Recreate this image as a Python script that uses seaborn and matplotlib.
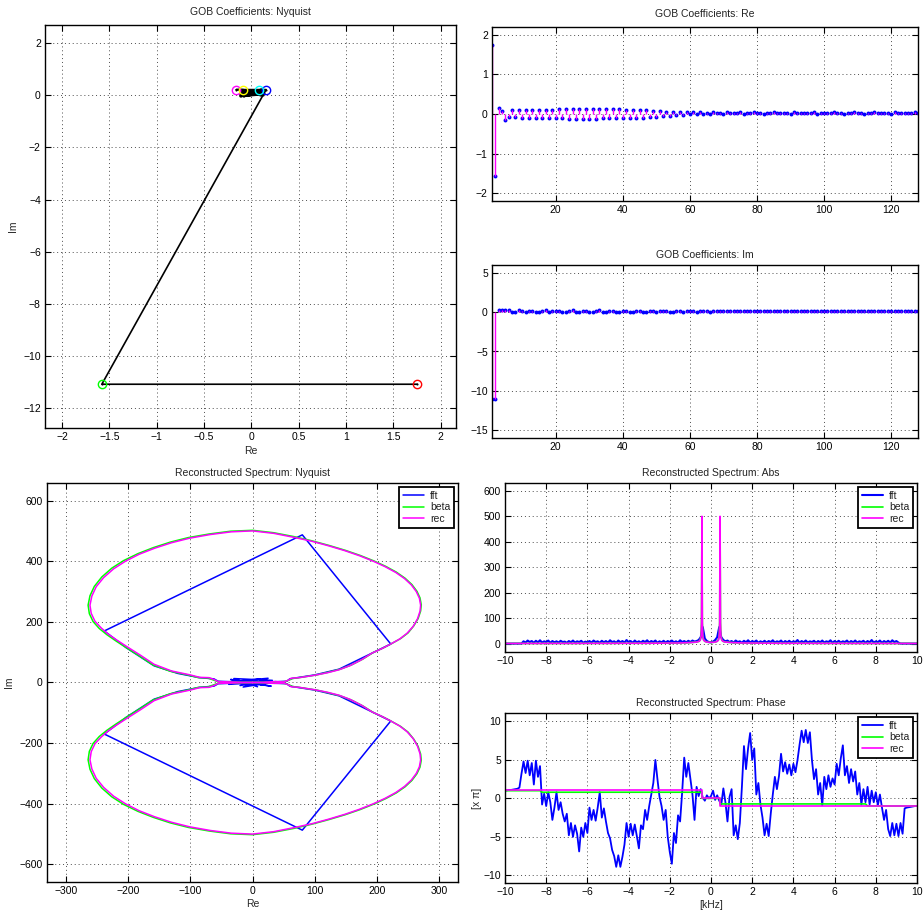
import numpy as np
import matplotlib
matplotlib.use("Agg")
import matplotlib.pyplot as plt
from matplotlib.ticker import FuncFormatter
import seaborn as sns

# ---------------- data ----------------
# GOB coefficients (index 1..128)
coef_re = [
    1.75, -1.58, 0.155, 0.077, -0.159, -0.088,
    0.10, -0.08, 0.10, -0.09, 0.09, -0.10, 0.10, -0.09, 0.10, -0.10,
    0.11, -0.10, 0.11, -0.11, 0.12, -0.11, 0.12, -0.12, 0.13, -0.12,
    0.13, -0.12, 0.13, -0.12, 0.12, -0.12, 0.12, -0.11, 0.12, -0.11,
    0.12, -0.11, 0.12, -0.11, 0.11, -0.10, 0.11, -0.10, 0.10, -0.09,
    0.09, -0.08, 0.08, -0.07, 0.07, -0.06, 0.06, -0.05, 0.05, -0.03,
    0.05, -0.02, 0.04, -0.01, 0.04, 0.00, 0.04, 0.01, 0.03, 0.01,
    0.04, 0.02, 0.03, 0.01, 0.04, 0.02, 0.03, 0.02, 0.04, 0.01,
    0.03, 0.02, 0.04, 0.02, 0.03, 0.01, 0.03, 0.02, 0.04, 0.02,
    0.03, 0.02, 0.03, 0.01, 0.04, 0.02, 0.03, 0.02, 0.03, 0.02,
    0.04, 0.01, 0.03, 0.02, 0.03, 0.02, 0.04, 0.02, 0.03, 0.01,
    0.03, 0.02, 0.04, 0.02, 0.03, 0.01, 0.03, 0.02, 0.04, 0.02,
    0.03, 0.02, 0.03, 0.01, 0.04, 0.02, 0.03, 0.02, 0.03, 0.02,
    0.04, 0.02,
]
coef_im = [
    -11.09, -11.09, 0.22, 0.22, 0.22, 0.22,
    0.02, -0.03, 0.22, 0.10, 0.00, 0.18, 0.21, -0.02, 0.05, 0.16,
    0.22, 0.02, 0.10, 0.19, 0.20, -0.03, 0.04, 0.17, 0.22, 0.03,
    0.08, 0.18, 0.21, -0.02, 0.03, 0.16, 0.22, 0.04, 0.08, 0.18,
    0.20, 0.00, 0.05, 0.16, 0.21, 0.03, 0.08, 0.17, 0.20, 0.00,
    0.06, 0.15, 0.19, 0.04, 0.09, 0.16, 0.18, 0.02, 0.07, 0.14,
    0.17, 0.05, 0.10, 0.14, 0.16, 0.06, 0.09, 0.13, 0.15, 0.07,
    0.11, 0.10, 0.11, 0.10, 0.11, 0.10, 0.11, 0.10, 0.11, 0.10,
    0.11, 0.10, 0.11, 0.10, 0.11, 0.10, 0.11, 0.10, 0.11, 0.10,
    0.11, 0.10, 0.11, 0.10, 0.11, 0.10, 0.11, 0.10, 0.11, 0.10,
    0.11, 0.10, 0.11, 0.10, 0.11, 0.10, 0.11, 0.10, 0.11, 0.10,
    0.11, 0.10, 0.11, 0.10, 0.11, 0.10, 0.11, 0.10, 0.11, 0.10,
    0.11, 0.10, 0.11, 0.10, 0.11, 0.10, 0.11, 0.10, 0.11, 0.10,
    0.10, 0.10,
]
coef_idx = np.arange(1, len(coef_re) + 1)
marker_colors = ["#ff0000", "#00ff00", "#0000ff", "#00ffff", "#ff00ff", "#ffff00"]

# Reconstructed spectrum, upper Nyquist loop as (Re, Im); lower loop is its conjugate
rec_loop = [
    (0, 0), (18, 1), (35, 3), (50, 2), (58, 8), (62, 14), (75, 16), (100, 24), (120, 32),
    (139, 42), (157, 56), (175, 75), (192, 97), (208, 112), (222, 127), (236, 143),
    (248, 162), (258, 185), (265, 210), (269, 235), (270, 255), (268, 278), (263, 300),
    (255, 322), (244, 343), (230, 363), (213, 382), (194, 400), (172, 418), (148, 435),
    (122, 451), (95, 466), (66, 479), (34, 492), (0, 500), (-34, 497), (-68, 488),
    (-101, 476), (-130, 461), (-157, 443), (-182, 423), (-204, 400), (-223, 375),
    (-239, 346), (-251, 316), (-258, 285), (-261, 255), (-259, 228), (-253, 202),
    (-243, 180), (-232, 160), (-218, 140), (-203, 120), (-180, 90), (-158, 60),
    (-130, 38), (-100, 25), (-85, 17), (-70, 16), (-62, 10), (-55, 3), (-40, 2),
    (-20, 1), (0, 0),
]
beta_loop = [
    (0, 0), (18, 1), (36, 2), (52, 3), (60, 9), (64, 13), (78, 17), (103, 25), (122, 34),
    (141, 44), (159, 58), (177, 77), (194, 99), (210, 114), (224, 129), (238, 145),
    (250, 164), (259, 187), (266, 211), (270, 236), (271, 256), (269, 279), (264, 301),
    (256, 323), (245, 344), (231, 364), (214, 383), (195, 401), (173, 419), (149, 436),
    (123, 452), (96, 467), (67, 481), (34, 494), (0, 502), (-35, 499), (-69, 490),
    (-103, 478), (-132, 463), (-159, 445), (-184, 425), (-207, 402), (-226, 377),
    (-242, 348), (-254, 317), (-261, 286), (-264, 255), (-262, 227), (-256, 201),
    (-246, 178), (-234, 158), (-220, 138), (-205, 118), (-182, 88), (-160, 58),
    (-132, 37), (-102, 24), (-87, 16), (-72, 15), (-64, 9), (-56, 3), (-41, 2),
    (-20, 1), (0, 0),
]
# FFT: noisy cluster around the origin, then the coarse upper loop
fft_core = [
    (0, 0), (-22, 6), (18, -8), (-35, 10), (30, -12), (-28, 4), (25, 14), (-15, -15),
    (38, 3), (-38, -6), (12, 12), (-20, -10), (32, 7), (-30, 13), (8, -14), (-10, 9),
    (20, -3), (0, 0),
]
fft_loop = [
    (0, 0), (-20, 2), (-40, 3), (-55, 4), (-62, 12), (-85, 16), (-120, 30), (-158, 55),
    (-203, 115), (-238, 170), (80, 487), (222, 127), (192, 97), (139, 44), (100, 25),
    (75, 17), (60, 12), (55, 4), (30, 2), (0, 0),
]

# Spectrum on a 0.1 kHz grid from -10 to 10 kHz
freq_khz = np.linspace(-10, 10, 201)
fft_abs = [
    0, 0, 0, 0, 0, 0, 0, 0, 0, 9,
    4, 12, 6, 10, 3, 11, 5, 13, 4, 9,
    6, 12, 3, 10, 5, 9, 4, 11, 6, 8,
    3, 10, 5, 12, 4, 9, 6, 11, 3, 8,
    5, 10, 4, 12, 6, 9, 3, 11, 5, 10,
    4, 13, 6, 9, 3, 12, 5, 10, 4, 14,
    6, 10, 3, 12, 5, 9, 4, 11, 6, 13,
    4, 10, 6, 12, 3, 9, 5, 11, 4, 10,
    6, 12, 5, 9, 4, 13, 6, 10, 5, 11,
    6, 12, 8, 10, 14, 25, 65, 20, 10, 6,
    5, 8, 14, 25, 65, 25, 14, 9, 12, 6,
    10, 4, 12, 6, 9, 3, 11, 5, 13, 4,
    10, 6, 12, 3, 9, 5, 11, 4, 10, 6,
    13, 4, 9, 6, 12, 3, 10, 5, 11, 4,
    9, 6, 14, 3, 10, 5, 12, 4, 9, 6,
    11, 3, 10, 5, 12, 4, 9, 6, 13, 3,
    10, 5, 11, 4, 9, 6, 12, 3, 10, 5,
    12, 4, 9, 6, 11, 3, 10, 5, 14, 4,
    9, 6, 12, 3, 10, 5, 11, 4, 13, 6,
    10, 4, 0, 0, 0, 0, 0, 0, 0, 0,
    0,
]
fft_phase = [
    1.0, 1.05, 1.1, 1.1, 1.15, 1.2, 1.25, 1.4, 3.2, 4.8,
    3.3, 4.9, 3.0, 4.6, 1.8, 4.9, 2.8, 4.2, -0.8, 0.6,
    -1.0, 0.8, -0.5, -2.8, -1.2, 0.8, -1.5, -0.5, -2.0, -3.0,
    -2.0, -4.8, -3.2, -5.0, -3.5, -4.6, -6.9, -3.8, -5.0, -3.2,
    -4.5, -1.2, -2.8, -1.5, -2.9, -1.2, 0.8, -2.5, -1.3, -3.0,
    -4.5, -5.2, -6.7, -7.5, -8.9, -7.4, -8.9, -7.6, -6.0, -3.2,
    -5.0, -3.3, -4.8, -3.4, -4.9, -6.5, -3.5, -4.0, -1.5, -2.8,
    -1.0, 0.5, 2.0, 5.0, 2.5, 0.2, -1.0, -2.8, -1.5, -5.0,
    -7.0, -8.5, -4.5, -5.8, -2.2, -3.0, 0.8, 5.3, 2.8, 4.6,
    2.5, 0.5, -2.8, 1.5, 0.3, 1.2, 0.1, -0.3, 0.4, 0.0,
    0.3, 1.0, -0.2, 0.4, -0.3, -0.8, 1.3, -0.5, -3.0, 0.2,
    1.2, -4.8, -3.5, -5.3, -3.2, 1.5, 6.8, 3.8, 6.5, 8.5,
    5.0, 6.5, 0.5, 2.0, -0.8, -2.5, -4.8, -3.3, -4.9, -2.0,
    0.5, 2.8, 1.2, 2.9, 5.8, 3.5, 4.7, 3.2, 4.4, 3.0,
    4.5, 3.4, 5.0, 7.0, 8.8, 7.3, 8.9, 7.2, 8.6, 5.0,
    2.5, 3.8, 0.5, 2.0, -0.9, 2.8, 1.2, 3.0, 1.5, 2.6,
    1.8, 4.5, 3.0, 5.2, 6.9, 3.0, 4.2, 2.0, 3.8, 2.2,
    3.5, 0.5, 2.0, -0.8, 1.2, -0.5, 1.5, -0.8, 1.0, -0.5,
    0.8, -0.9, 0.5, -1.2, -2.8, -1.5, -4.0, -4.9, -3.2, -4.8,
    -3.3, -4.9, -3.2, -4.6, -1.3, -1.2, -1.15, -1.1, -1.05, -1.0,
    -1.0,
]

# Model magnitude (beta) and reconstruction (rec)
model_abs_f = [-10, -6, -3, -1.5, -1.0, -0.7, -0.58, -0.52, -0.48, -0.46, -0.44, -0.42,
               -0.40, -0.36, -0.3, -0.2, -0.1, 0, 0.1, 0.2, 0.3, 0.36, 0.40, 0.42, 0.44,
               0.46, 0.48, 0.52, 0.58, 0.7, 1.0, 1.5, 3, 6, 10]
rec_abs = [0.5, 1, 1.5, 2.5, 4, 6, 9, 14, 30, 80, 500, 80,
           30, 14, 9, 6, 5, 5, 5, 6, 9, 14, 30, 80, 500,
           80, 30, 14, 9, 6, 4, 2.5, 1.5, 1, 0.5]
beta_abs = [0.5, 1, 1.5, 2.5, 4, 6, 9, 15, 32, 85, 480, 85,
            32, 15, 9, 6, 5, 4, 5, 6, 9, 15, 32, 85, 480,
            85, 32, 15, 9, 6, 4, 2.5, 1.5, 1, 0.5]

rec_phase_f = [-10, -0.44, -0.44, 0.44, 0.44, 10]
rec_phase = [1.05, 1.05, 0.05, 0.05, -1.0, -1.0]
beta_phase_f = [-10, -8.3, -8.2, -0.5, -0.44, -0.44, 0.44, 0.44, 0.5, 7.5, 7.6, 10]
beta_phase = [1.0, 1.0, 0.8, 0.8, 0.8, 0.0, 0.0, -0.72, -0.72, -0.72, -0.98, -1.0]

# ---------------- style ----------------
sns.set_theme(style="ticks")
plt.rcParams.update({
    "font.family": ["Liberation Sans", "DejaVu Sans"],
    "font.size": 7.5,
    "axes.titlesize": 7.5,
    "axes.labelsize": 7.5,
    "xtick.labelsize": 7.5,
    "ytick.labelsize": 7.5,
    "axes.linewidth": 1.0,
    "axes.edgecolor": "black",
    "axes.facecolor": "white",
    "xtick.color": "black",
    "ytick.color": "black",
    "text.color": "#222222",
    "xtick.direction": "in",
    "ytick.direction": "in",
    "xtick.top": True,
    "ytick.right": True,
    "xtick.major.size": 4,
    "ytick.major.size": 4,
    "xtick.major.width": 0.8,
    "ytick.major.width": 0.8,
    "xtick.major.pad": 3,
    "ytick.major.pad": 3,
})

BLUE, GREEN, MAGENTA = "#0000ff", "#00ff00", "#ff00ff"

fig = plt.figure(figsize=(9.24, 9.13), dpi=100)
W, H = 924, 913


def add_axes(left, top, right, bottom):
    return fig.add_axes([left / W, 1 - bottom / H, (right - left) / W, (bottom - top) / H])


def short_num(v, _pos):
    return f"{v:g}".replace("-", "\u2212")


def style(ax, xlim, ylim, xticks, yticks, title, pad=5):
    ax.set_xlim(*xlim)
    ax.set_ylim(*ylim)
    ax.set_xticks(xticks)
    ax.set_yticks(yticks)
    ax.xaxis.set_major_formatter(FuncFormatter(short_num))
    ax.yaxis.set_major_formatter(FuncFormatter(short_num))
    ax.grid(True, linestyle=(0, (1, 3)), color="0.3", linewidth=0.7)
    ax.set_axisbelow(True)
    ax.set_title(title, pad=pad, color="#222222")
    ax.set_xlabel("")
    ax.set_ylabel("")
    for s in ax.spines.values():
        s.set_visible(True)
        s.set_color("black")


def legend(ax):
    leg = ax.legend(loc="upper right", fancybox=False, framealpha=1, edgecolor="black",
                    handlelength=2.0, borderpad=0.35, labelspacing=0.15, handletextpad=0.6,
                    borderaxespad=0.4, fontsize=7.5)
    leg.get_frame().set_linewidth(1.3)


def loop_xy(upper):
    """Closed figure-eight: upper loop followed by its mirrored (conjugate) loop."""
    re = np.array([p[0] for p in upper], dtype=float)
    im = np.array([p[1] for p in upper], dtype=float)
    return np.concatenate([re, re[::-1]]), np.concatenate([im, -im[::-1]])


# --- GOB coefficients: Nyquist ---
ax1 = add_axes(45, 25, 456, 428)
sns.lineplot(x=coef_re, y=coef_im, sort=False, estimator=None, color="black",
             linewidth=1.2, marker=".", markersize=3, markeredgewidth=0, ax=ax1, legend=False)
for k, c in enumerate(marker_colors):
    ax1.plot(coef_re[k], coef_im[k], marker="o", mfc="none", mec=c, ms=6, mew=1.0)
style(ax1, (-2.18, 2.16), (-12.77, 2.7), np.arange(-2, 2.01, 0.5), np.arange(-12, 2.1, 2),
      "GOB Coefficients: Nyquist", pad=7)
ax1.set_xlabel("Re", labelpad=3)
ax1.set_ylabel("Im", labelpad=4)

# --- GOB coefficients: Re ---
ax2 = add_axes(492, 27, 918, 201)
ax2.vlines(coef_idx, 0, coef_re, color=MAGENTA, linewidth=1.0)
sns.scatterplot(x=coef_idx, y=coef_re, color=BLUE, s=8, linewidth=0, ax=ax2, legend=False)
style(ax2, (1, 128), (-2.2, 2.2), np.arange(20, 121, 20), np.arange(-2, 2.1, 1),
      "GOB Coefficients: Re", pad=7)

# --- GOB coefficients: Im ---
ax3 = add_axes(492, 265, 918, 438)
ax3.vlines(coef_idx, 0, coef_im, color=MAGENTA, linewidth=1.0)
sns.scatterplot(x=coef_idx, y=coef_im, color=BLUE, s=8, linewidth=0, ax=ax3, legend=False)
style(ax3, (1, 128), (-16, 6), np.arange(20, 121, 20), np.arange(-15, 5.1, 5),
      "GOB Coefficients: Im", pad=5)

# --- Reconstructed spectrum: Nyquist ---
ax4 = add_axes(47, 483, 458, 882)
rec_re, rec_im = loop_xy(rec_loop)
beta_re, beta_im = loop_xy(beta_loop)
fl_re, fl_im = loop_xy(fft_loop)
fft_re = np.concatenate([[p[0] for p in fft_core], fl_re])
fft_im = np.concatenate([[p[1] for p in fft_core], fl_im])
sns.lineplot(x=fft_re, y=fft_im, sort=False, estimator=None, color=BLUE, linewidth=1.1,
             ax=ax4, label="fft")
sns.lineplot(x=beta_re, y=beta_im, sort=False, estimator=None, color=GREEN, linewidth=1.1,
             ax=ax4, label="beta")
sns.lineplot(x=rec_re, y=rec_im, sort=False, estimator=None, color=MAGENTA, linewidth=1.1,
             ax=ax4, label="rec")
style(ax4, (-330, 330), (-658, 658), np.arange(-300, 301, 100), np.arange(-600, 601, 200),
      "Reconstructed Spectrum: Nyquist", pad=5)
legend(ax4)
ax4.set_xlabel("Re", labelpad=2)
ax4.set_ylabel("Im", labelpad=4)

# --- Reconstructed spectrum: Abs ---
ax5 = add_axes(505, 483, 917, 652)
sns.lineplot(x=freq_khz, y=fft_abs, sort=False, estimator=None, color=BLUE, linewidth=1.5,
             ax=ax5, label="fft")
sns.lineplot(x=model_abs_f, y=beta_abs, sort=False, estimator=None, color=GREEN, linewidth=1.2,
             ax=ax5, label="beta")
sns.lineplot(x=model_abs_f, y=rec_abs, sort=False, estimator=None, color=MAGENTA, linewidth=1.2,
             ax=ax5, label="rec")
style(ax5, (-10, 10), (-33, 631), np.arange(-10, 10.1, 2), np.arange(0, 601, 100),
      "Reconstructed Spectrum: Abs", pad=5)
legend(ax5)

# --- Reconstructed spectrum: Phase ---
ax6 = add_axes(505, 713, 917, 883)
sns.lineplot(x=freq_khz, y=fft_phase, sort=False, estimator=None, color=BLUE, linewidth=1.3,
             ax=ax6, label="fft")
sns.lineplot(x=beta_phase_f, y=beta_phase, sort=False, estimator=None, color=GREEN,
             linewidth=1.2, ax=ax6, label="beta")
sns.lineplot(x=rec_phase_f, y=rec_phase, sort=False, estimator=None, color=MAGENTA,
             linewidth=1.2, ax=ax6, label="rec")
style(ax6, (-10, 10), (-11.0, 11.1), np.arange(-10, 10.1, 2), np.arange(-10, 10.1, 5),
      "Reconstructed Spectrum: Phase", pad=5)
legend(ax6)
ax6.set_xlabel("[kHz]", labelpad=2)
ax6.set_ylabel("[x π]", labelpad=1)

fig.savefig("out.png", dpi=100, facecolor="white")
